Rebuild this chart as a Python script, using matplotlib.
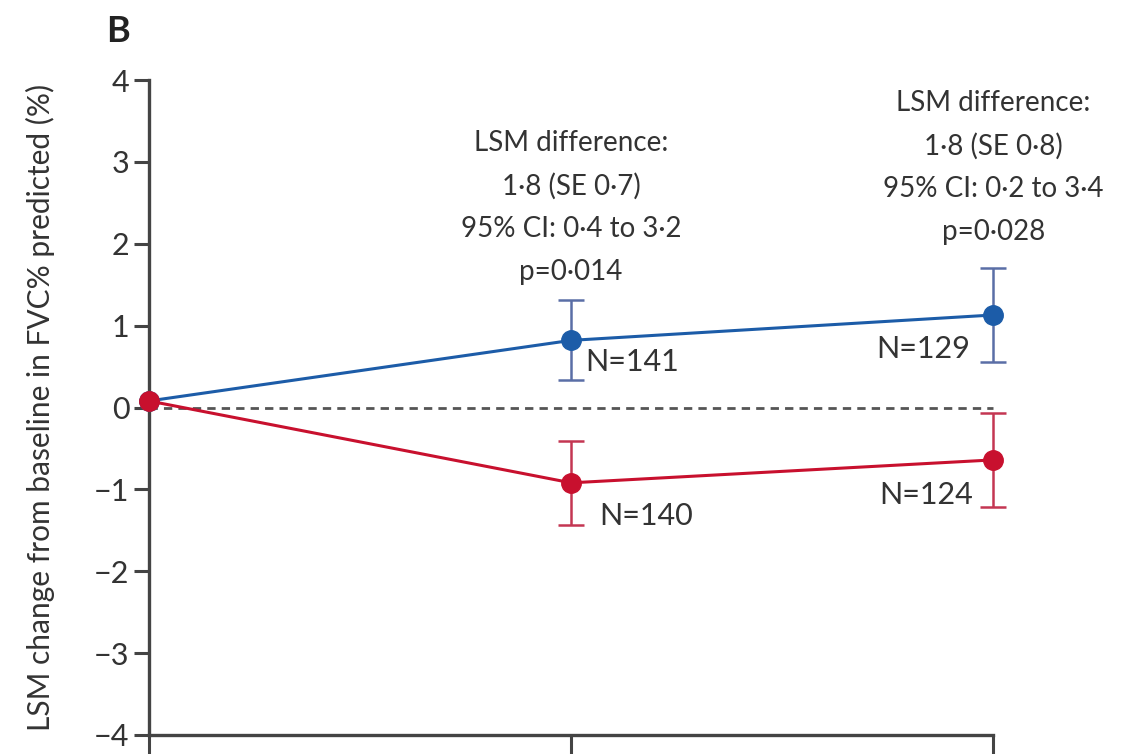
import numpy as np
import matplotlib
matplotlib.use("Agg")
import matplotlib.pyplot as plt

plt.rcParams['font.family'] = ['Lato', 'DejaVu Sans']

# visit weeks and least-squares mean change in FVC% predicted
weeks = [0, 26, 52]
blue_mean = [0.08, 0.82, 1.13]
blue_err = [0.0, 0.49, 0.57]
red_mean = [0.08, -0.92, -0.64]
red_err = [0.0, 0.51, 0.57]

n_blue = ["N=141", "N=129"]
n_red = ["N=140", "N=124"]

notes = [
    "LSM difference:\n1·8 (SE 0·7)\n95% CI: 0·4 to 3·2\np=0·014",
    "LSM difference:\n1·8 (SE 0·8)\n95% CI: 0·2 to 3·4\np=0·028",
]
note_tops = [3.39, 3.88]

blue = "#1c5ca8"
blue_bar = "#5a6ea6"
red = "#c8102e"
red_bar = "#c43652"
txt = "#333333"
axc = "#444444"

fig = plt.figure(figsize=(11.32, 7.54), dpi=100)
ax = fig.add_axes([149 / 1132, 1 - 735 / 754, (1042 - 149) / 1132, (735 - 80) / 754])
ax.set_xlim(0, 55)
ax.set_ylim(-4, 4)

ax.plot([0, 52], [0, 0], ls=(0, (3, 2.2)), color="#555555", lw=2, zorder=1)

ax.errorbar(weeks[1:], blue_mean[1:], yerr=blue_err[1:], fmt="none",
            ecolor=blue_bar, elinewidth=1.8, capsize=9.7, capthick=1.8, zorder=2)
ax.errorbar(weeks[1:], red_mean[1:], yerr=red_err[1:], fmt="none",
            ecolor=red_bar, elinewidth=1.8, capsize=9.7, capthick=1.8, zorder=2)
ax.plot(weeks, blue_mean, color=blue, lw=2.2, marker="o", ms=14,
        zorder=3, clip_on=False)
ax.plot(weeks, red_mean, color=red, lw=2.2, marker="o", ms=14,
        zorder=4, clip_on=False)

# N labels beside the follow-up points
nfs = 22
ax.annotate(n_blue[0], (weeks[1], blue_mean[1]), xytext=(14, -22),
            textcoords="offset pixels", ha="left", va="center",
            fontsize=nfs, color=txt)
ax.annotate(n_red[0], (weeks[1], red_mean[1]), xytext=(28, -33),
            textcoords="offset pixels", ha="left", va="center",
            fontsize=nfs, color=txt)
ax.annotate(n_blue[1], (weeks[2], blue_mean[2]), xytext=(-23, -34),
            textcoords="offset pixels", ha="right", va="center",
            fontsize=nfs, color=txt)
ax.annotate(n_red[1], (weeks[2], red_mean[2]), xytext=(-20, -35),
            textcoords="offset pixels", ha="right", va="center",
            fontsize=nfs, color=txt)

for x, y, s in zip(weeks[1:], note_tops, notes):
    ax.text(x, y, s, ha="center", va="top", fontsize=20, color=txt,
            linespacing=1.78, multialignment="center")

for side in ["top", "right"]:
    ax.spines[side].set_visible(False)
for side in ["left", "bottom"]:
    ax.spines[side].set_color(axc)
    ax.spines[side].set_linewidth(2.4)
ax.spines["bottom"].set_bounds(0, 52)

ax.set_yticks(range(-4, 5))
ax.set_yticklabels([str(v).replace("-", "\u2212") for v in range(-4, 5)])
ax.set_xticks(weeks)
ax.set_xticklabels([])
ax.tick_params(axis="y", length=11, width=2.2, color=axc, labelsize=22,
               labelcolor=txt, pad=3)
ax.tick_params(axis="x", length=20, width=2.2, color=axc)

ax.set_ylabel("LSM change from baseline in FVC% predicted (%)", fontsize=21.5,
              color=txt, labelpad=28)
fig.text(118 / 1132, 1 - 32 / 754, "B", fontsize=26, fontweight="bold",
         color="#222222", ha="center", va="center")

fig.savefig("out.png", dpi=100)
